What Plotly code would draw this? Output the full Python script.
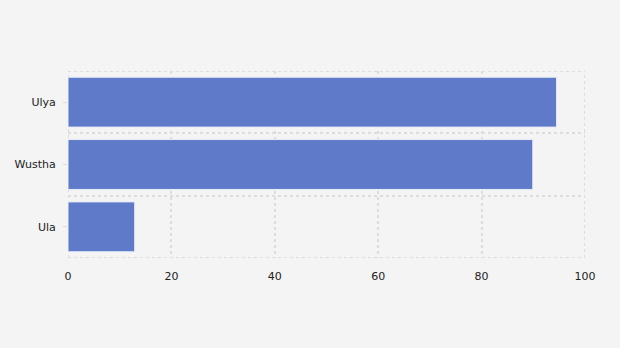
import plotly.graph_objects as go

categories = ["Ula", "Wustha", "Ulya"]
values = [12.9, 89.9, 94.5]
x_ticks = [0, 20, 40, 60, 80, 100]

GRID = "#dddddd"
DASH = "3px,3px"

fig = go.Figure()
fig.add_trace(go.Bar(
    x=values,
    y=list(range(len(categories))),
    orientation="h",
    marker=dict(color="#5e7ac9", line=dict(color="#e8ecf7", width=1)),
    width=0.8,
    hoverinfo="skip",
))

fig.update_layout(
    width=620, height=348,
    margin=dict(l=68, r=35, t=71, b=90),
    paper_bgcolor="#f4f4f4",
    plot_bgcolor="#f4f4f4",
    font=dict(family="DejaVu Sans, Verdana, sans-serif", size=11, color="#222222"),
    showlegend=False,
    xaxis=dict(
        range=[0, 100],
        tickvals=x_ticks,
        showgrid=True,
        gridcolor=GRID,
        griddash=DASH,
        gridwidth=2,
        zeroline=False,
        showline=False,
        ticks="",
        ticklabelstandoff=10,
    ),
    yaxis=dict(
        range=[-0.5, 2.5],
        tickvals=list(range(len(categories))),
        ticktext=categories,
        showgrid=False,
        zeroline=False,
        showline=False,
        ticks="outside",
        ticklen=4,
        tickcolor="#dddddd",
        ticklabelstandoff=5,
        minor=dict(
            tick0=0.5, dtick=1, showgrid=True,
            gridcolor=GRID, griddash=DASH, gridwidth=2, ticks="",
        ),
    ),
)
# boundary lines at plot edges
for yv in (2.5, -0.5):
    fig.add_shape(type="line", xref="paper", yref="y", x0=0, x1=1, y0=yv, y1=yv,
                  line=dict(color=GRID, width=2, dash=DASH), layer="below")
for xv in (0, 100):
    fig.add_shape(type="line", xref="x", yref="paper", x0=xv, x1=xv, y0=0, y1=1,
                  line=dict(color=GRID, width=2, dash=DASH), layer="below")

fig.write_html("out.html")
